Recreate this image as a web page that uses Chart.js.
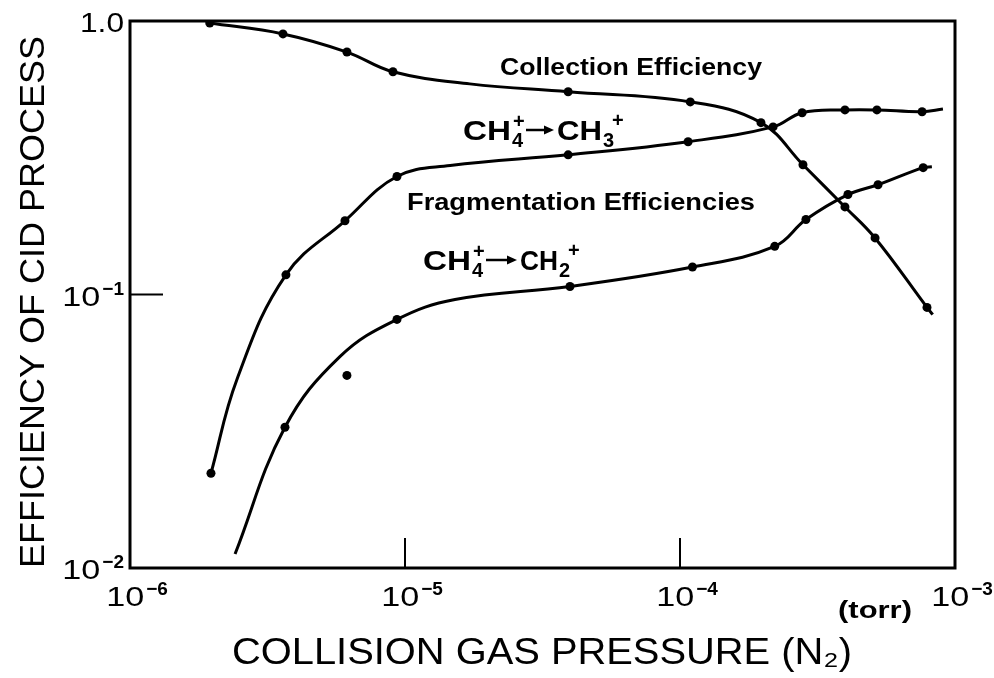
<!DOCTYPE html>
<html>
<head>
<meta charset="utf-8">
<script src="https://cdn.jsdelivr.net/npm/chart.js@4.4.1/dist/chart.umd.min.js"></script>
<style>
html, body { margin: 0; padding: 0; background: #fff; }
#wrap { width: 994px; height: 678px; }
</style>
</head>
<body>
<div id="wrap"><canvas id="cidChart" width="994" height="678"></canvas></div>
<script>
// Values. Pressure in torr, efficiency as a fraction.
// "marked" = 1 where the figure shows a data dot, 0 where the curve just passes.
const collPressure = [1.95e-6, 3.6e-6, 6.15e-6, 9.04e-6, 1.72e-5, 3.92e-5, 1.09e-4, 1.97e-4, 2.80e-4, 3.98e-4, 5.12e-4, 7.91e-4, 8.3e-4];
const collEff      = [0.983, 0.897, 0.77, 0.652, 0.589, 0.551, 0.506, 0.425, 0.298, 0.209, 0.161, 0.0897, 0.0845];
const collMarked   = [1, 1, 1, 1, 0, 1, 1, 1, 1, 1, 1, 1, 0];

const ch3Pressure = [1.97e-6, 2.45e-6, 3.69e-6, 6.05e-6, 9.35e-6, 1.46e-5, 3.92e-5, 1.07e-4, 2.18e-4, 2.78e-4, 3.98e-4, 5.2e-4, 7.59e-4, 9.04e-4];
const ch3Eff      = [0.0222, 0.049, 0.118, 0.186, 0.27, 0.296, 0.324, 0.362, 0.41, 0.462, 0.473, 0.473, 0.466, 0.477];
const ch3Marked   = [1, 0, 1, 1, 1, 0, 1, 1, 1, 1, 1, 1, 1, 0];

const ch2Pressure = [2.41e-6, 3.66e-6, 5.81e-6, 9.35e-6, 1.52e-5, 3.98e-5, 1.11e-4, 2.21e-4, 2.87e-4, 4.08e-4, 5.25e-4, 7.66e-4, 8.24e-4];
const ch2Eff      = [0.01125, 0.0327, 0.0594, 0.0811, 0.0959, 0.107, 0.126, 0.15, 0.188, 0.232, 0.252, 0.291, 0.293];
const ch2Marked   = [0, 1, 0, 1, 0, 1, 1, 1, 1, 1, 1, 1, 0];

// the single CH2+ dot that sits off the curve
const strayPressure = [6.15e-6];
const strayEff      = [0.0506];

const xTickValues = [1e-6, 1e-5, 1e-4, 1e-3];
const xTickExps   = ['\u22126', '\u22125', '\u22124', '\u22123'];
const yTickValues = [1, 0.1, 0.01];
const yTickBases  = ['1.0', '10', '10'];
const yTickExps   = ['', '\u22121', '\u22122'];
const innerXTicks = [1e-5, 1e-4];
const innerYTicks = [0.1];

function toPoints(xs, ys) {
    return xs.map((x, i) => ({ x: x, y: ys[i] }));
}

function dotSizes(marked) {
    return marked.map(m => m ? 4.5 : 0);
}

// squeeze/stretch a string to a given width
function fitText(ctx, text, x, y, width, align) {
    const w = ctx.measureText(text).width;
    ctx.save();
    ctx.translate(x, y);
    ctx.scale(width / w, 1);
    ctx.textAlign = 'left';
    ctx.fillText(text, align === 'center' ? -w / 2 : 0, 0);
    ctx.restore();
}

function drawPow(ctx, base, exp, x, baseline, align) {
    const baseW = base === '10' ? 38 : 44;
    ctx.font = 'bold 19px "Liberation Sans", Arial, sans-serif';
    const we = exp ? ctx.measureText(exp).width + 2 : 0;
    const total = baseW + we;
    let sx = x;
    if (align === 'center') sx = x - total / 2;
    if (align === 'right') sx = x - total;
    ctx.font = '28px "Liberation Sans", Arial, sans-serif';
    fitText(ctx, base, sx, baseline, baseW, 'left');
    if (exp) {
        ctx.font = 'bold 19px "Liberation Sans", Arial, sans-serif';
        ctx.textAlign = 'left';
        ctx.fillText(exp, sx + baseW + 2, baseline - 11);
    }
}

function drawArrow(ctx, x1, x2, y) {
    ctx.lineWidth = 2.5;
    ctx.beginPath();
    ctx.moveTo(x1, y);
    ctx.lineTo(x2 - 6, y);
    ctx.stroke();
    ctx.beginPath();
    ctx.moveTo(x2, y);
    ctx.lineTo(x2 - 10, y - 4.5);
    ctx.lineTo(x2 - 10, y + 4.5);
    ctx.closePath();
    ctx.fill();
}

// CH4+ -> CHn+ with stacked sub/superscripts
function drawReaction(ctx, x, baseline, sub2, chW2, arrowW) {
    const big = 'bold 27px "Liberation Sans", Arial, sans-serif';
    const small = 'bold 20px "Liberation Sans", Arial, sans-serif';
    ctx.textAlign = 'left';
    ctx.font = big;
    fitText(ctx, 'CH', x, baseline, 48, 'left');
    let cx = x + 49;
    ctx.font = small;
    ctx.fillText('4', cx, baseline + 7);
    ctx.fillText('+', cx + 1, baseline - 12);
    cx += 14;
    drawArrow(ctx, cx, cx + arrowW, baseline - 10);
    cx += arrowW + 3;
    ctx.font = big;
    fitText(ctx, 'CH', cx, baseline, chW2, 'left');
    cx += chW2 + 1;
    ctx.font = small;
    ctx.fillText(sub2, cx, baseline + 7);
    ctx.fillText('+', cx + 9, baseline - 13);
}

const decorations = {
    id: 'decorations',
    afterDraw(chart) {
        const ctx = chart.ctx;
        const a = chart.chartArea;
        const xs = chart.scales.x;
        const ys = chart.scales.y;
        ctx.save();
        ctx.strokeStyle = '#000';
        ctx.fillStyle = '#000';

        // frame
        ctx.lineWidth = 3;
        ctx.strokeRect(a.left, a.top, a.right - a.left, a.bottom - a.top);

        // short inner ticks
        ctx.lineWidth = 2;
        innerXTicks.forEach(v => {
            const px = xs.getPixelForValue(v);
            ctx.beginPath();
            ctx.moveTo(px, a.bottom);
            ctx.lineTo(px, a.bottom - 30);
            ctx.stroke();
        });
        innerYTicks.forEach(v => {
            const py = ys.getPixelForValue(v);
            ctx.beginPath();
            ctx.moveTo(a.left, py);
            ctx.lineTo(a.left + 33, py);
            ctx.stroke();
        });

        // tick labels
        xTickValues.forEach((v, i) => {
            drawPow(ctx, '10', xTickExps[i], xs.getPixelForValue(v) + 7, a.bottom + 38, 'center');
        });
        yTickValues.forEach((v, i) => {
            drawPow(ctx, yTickBases[i], yTickExps[i], a.left - 6, ys.getPixelForValue(v) + 11, 'right');
        });

        // units
        ctx.font = 'bold 24px "Liberation Sans", Arial, sans-serif';
        fitText(ctx, '(torr)', 838, 618, 74, 'left');

        // axis titles
        ctx.font = '36px "Liberation Sans", Arial, sans-serif';
        fitText(ctx, 'COLLISION GAS PRESSURE (N\u2082)', 542, 664, 620, 'center');
        ctx.save();
        ctx.translate(31, 302);
        ctx.rotate(-Math.PI / 2);
        ctx.font = '35px "Liberation Sans", Arial, sans-serif';
        fitText(ctx, 'EFFICIENCY OF CID PROCESS', 0, 13, 532, 'center');
        ctx.restore();

        // curve annotations
        ctx.font = 'bold 24px "Liberation Sans", Arial, sans-serif';
        fitText(ctx, 'Collection Efficiency', 500, 75, 262, 'left');
        fitText(ctx, 'Fragmentation Efficiencies', 407, 210, 348, 'left');
        drawReaction(ctx, 463, 140, '3', 45, 28);
        drawReaction(ctx, 423, 270, '2', 38, 31);

        ctx.restore();
    }
};

const ctx = document.getElementById('cidChart').getContext('2d');
const chart = new Chart(ctx, {
    type: 'line',
    data: {
        datasets: [{
            label: 'Collection Efficiency',
            data: toPoints(collPressure, collEff),
            pointRadius: dotSizes(collMarked)
        }, {
            label: 'CH4+ -> CH3+',
            data: toPoints(ch3Pressure, ch3Eff),
            pointRadius: dotSizes(ch3Marked)
        }, {
            label: 'CH4+ -> CH2+',
            data: toPoints(ch2Pressure, ch2Eff),
            pointRadius: dotSizes(ch2Marked)
        }, {
            label: 'CH4+ -> CH2+ (off curve)',
            data: toPoints(strayPressure, strayEff),
            showLine: false,
            pointRadius: 4.5
        }]
    },
    options: {
        responsive: false,
        animation: false,
        layout: {
            padding: { left: 130, top: 21, right: 39, bottom: 110 }
        },
        plugins: {
            legend: { display: false },
            tooltip: { enabled: false }
        },
        elements: {
            line: {
                borderColor: '#000',
                borderWidth: 3,
                tension: 0.4,
                fill: false
            },
            point: {
                backgroundColor: '#000',
                borderColor: '#000',
                borderWidth: 0
            }
        },
        scales: {
            x: { type: 'logarithmic', min: 1e-6, max: 1e-3, display: false },
            y: { type: 'logarithmic', min: 0.01, max: 1, display: false }
        }
    },
    plugins: [decorations]
});
</script>
</body>
</html>
